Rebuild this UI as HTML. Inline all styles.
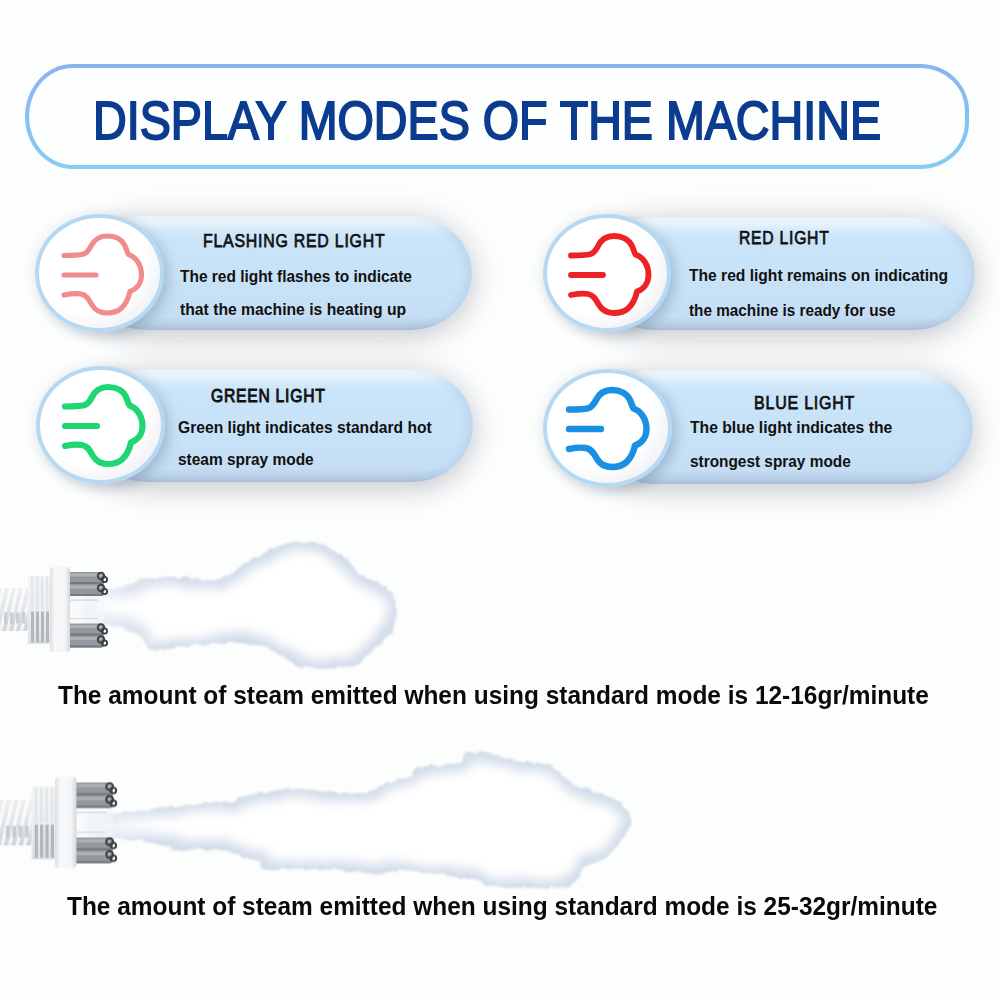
<!DOCTYPE html>
<html><head><meta charset="utf-8">
<style>
html,body{margin:0;padding:0;}
body{width:1000px;height:1000px;position:relative;overflow:hidden;background:#fcfdfd;font-family:"Liberation Sans",sans-serif;}
.abs{position:absolute;}
.hdr{left:25px;top:64px;width:936px;height:97px;border:4.5px solid transparent;border-radius:48px 49px 49px 48px / 53px 47px 47px 53px;
  background:linear-gradient(#fdfefe,#fdfefe) padding-box,linear-gradient(180deg,#8ab4ef,#84cdf4) border-box;}
.title{white-space:nowrap;color:#0b3c8f;font-weight:normal;-webkit-text-stroke:1.9px #0b3c8f;line-height:1;transform-origin:0 0;}
.pill{border-radius:62px/57px;
  background:linear-gradient(180deg,#f1f8fd 0px,#e5f2fc 7px,#d3e9f9 15px,#c9e3f8 24px,#c8e2f7 50%,#c5def4 calc(100% - 14px),#b8cfe7 calc(100% - 5px),#aec0d8 100%);
  box-shadow:inset -6px 0 7px rgba(80,110,150,.09), 0 8px 24px rgba(60,70,90,.16), 0 0 26px rgba(60,70,90,.09), 0 4px 44px rgba(60,70,90,.07);}
.circ{box-sizing:border-box;border-radius:50%;border:4.5px solid #b5d8f3;
  background:radial-gradient(ellipse at 40% 36%,#ffffff 0%,#ffffff 55%,#f2f3f6 75%,#dde1e7 100%);
  box-shadow:5px 6px 12px rgba(60,80,110,.2), 0 0 14px rgba(60,80,110,.1);}
.ico{width:128px;height:128px;}
.t{white-space:nowrap;color:#111;line-height:1;transform-origin:0 0;}
.h{-webkit-text-stroke:0.75px #111;letter-spacing:0.9px;}
.b{font-weight:bold;}
.big{font-weight:bold;color:#0a0a0a;white-space:nowrap;line-height:1;transform-origin:0 0;}

</style></head><body>
<div class="abs hdr"></div>
<div class="abs title" style="left:93.27px;top:95.14px;font-size:52.9px;transform:scaleX(0.882);">DISPLAY MODES OF THE MACHINE</div>
<div class="abs pill" style="left:85px;top:216px;width:387px;height:114px;"></div>
<div class="abs circ" style="left:35px;top:214px;width:129px;height:118px"></div>
<svg class="abs" style="left:55px;top:225px;width:100px;height:100px" viewBox="0 0 100 100"><g fill="none" stroke="#f28b8b" stroke-width="5.2" stroke-linecap="round" stroke-linejoin="round"><path d="M9,30.5 C17,30.5 24,30.3 28,29.3 C32,28.3 34,25 36,21 C39,15 44,11 52,11 C60,11 67,14.5 70,21 C71.5,24 72,27 73.5,29.5 C81,32 86.5,40 86.5,50 C86.5,58 82,64 75,66.5 C73.5,73 71,79 66,83.5 C62,87 57,88 52,88 C45,88 40,85 37,80 C34,75 32,70 26,69 C20,68 14,69 9,70"/><path d="M9,50 L41,50"/></g></svg>
<div class="abs t h" style="left:203.23px;top:231.95px;font-size:18.7px;transform:scaleX(0.8503);">FLASHING RED LIGHT</div>
<div class="abs t b" style="left:179.69px;top:267.55px;font-size:17.0px;transform:scaleX(0.9095);">The red light flashes to indicate</div>
<div class="abs t b" style="left:179.69px;top:301.05px;font-size:17.0px;transform:scaleX(0.9243);">that the machine is heating up</div>
<div class="abs pill" style="left:593px;top:216.5px;width:382px;height:113.5px;"></div>
<div class="abs circ" style="left:543px;top:214px;width:128px;height:118px"></div>
<svg class="abs" style="left:561.5px;top:225px;width:100px;height:100px" viewBox="0 0 100 100"><g fill="none" stroke="#ec2227" stroke-width="5.8" stroke-linecap="round" stroke-linejoin="round"><path d="M9,30.5 C17,30.5 24,30.3 28,29.3 C32,28.3 34,25 36,21 C39,15 44,11 52,11 C60,11 67,14.5 70,21 C71.5,24 72,27 73.5,29.5 C81,32 86.5,40 86.5,50 C86.5,58 82,64 75,66.5 C73.5,73 71,79 66,83.5 C62,87 57,88 52,88 C45,88 40,85 37,80 C34,75 32,70 26,69 C20,68 14,69 9,70"/><path d="M9,50 L41,50"/></g></svg>
<div class="abs t h" style="left:738.94px;top:229.05px;font-size:18.7px;transform:scaleX(0.8402);">RED LIGHT</div>
<div class="abs t b" style="left:689.49px;top:266.55px;font-size:17.0px;transform:scaleX(0.9176);">The red light remains on indicating</div>
<div class="abs t b" style="left:689.49px;top:301.55px;font-size:17.0px;transform:scaleX(0.8998);">the machine is ready for use</div>
<div class="abs pill" style="left:85.5px;top:369px;width:387.5px;height:112.5px;"></div>
<div class="abs circ" style="left:35.5px;top:366px;width:129px;height:118px"></div>
<svg class="abs" style="left:56px;top:376px;width:100px;height:100px" viewBox="0 0 100 100"><g fill="none" stroke="#1fd673" stroke-width="6.2" stroke-linecap="round" stroke-linejoin="round"><path d="M9,30.5 C17,30.5 24,30.3 28,29.3 C32,28.3 34,25 36,21 C39,15 44,11 52,11 C60,11 67,14.5 70,21 C71.5,24 72,27 73.5,29.5 C81,32 86.5,40 86.5,50 C86.5,58 82,64 75,66.5 C73.5,73 71,79 66,83.5 C62,87 57,88 52,88 C45,88 40,85 37,80 C34,75 32,70 26,69 C20,68 14,69 9,70"/><path d="M9,50 L41,50"/></g></svg>
<div class="abs t h" style="left:211.06px;top:386.76px;font-size:18.7px;transform:scaleX(0.8386);-webkit-text-stroke:0.95px #111;">GREEN LIGHT</div>
<div class="abs t b" style="left:178.37px;top:418.75px;font-size:17.0px;transform:scaleX(0.9198);">Green light indicates standard hot</div>
<div class="abs t b" style="left:178.38px;top:450.95px;font-size:17.0px;transform:scaleX(0.9087);">steam spray mode</div>
<div class="abs pill" style="left:593px;top:369.5px;width:380px;height:114.0px;"></div>
<div class="abs circ" style="left:543px;top:368.5px;width:129px;height:118px"></div>
<svg class="abs" style="left:560px;top:379px;width:100px;height:100px" viewBox="0 0 100 100"><g fill="none" stroke="#1a90e2" stroke-width="6.4" stroke-linecap="round" stroke-linejoin="round"><path d="M9,30.5 C17,30.5 24,30.3 28,29.3 C32,28.3 34,25 36,21 C39,15 44,11 52,11 C60,11 67,14.5 70,21 C71.5,24 72,27 73.5,29.5 C81,32 86.5,40 86.5,50 C86.5,58 82,64 75,66.5 C73.5,73 71,79 66,83.5 C62,87 57,88 52,88 C45,88 40,85 37,80 C34,75 32,70 26,69 C20,68 14,69 9,70"/><path d="M9,50 L41,50"/></g></svg>
<div class="abs t h" style="left:753.72px;top:394.06px;font-size:18.7px;transform:scaleX(0.8568);">BLUE LIGHT</div>
<div class="abs t b" style="left:690.29px;top:418.75px;font-size:17.0px;transform:scaleX(0.9227);">The blue light indicates the</div>
<div class="abs t b" style="left:689.98px;top:453.15px;font-size:17.0px;transform:scaleX(0.905);">strongest spray mode</div>
<svg class="abs" style="left:0;top:0" width="1000" height="1000" viewBox="0 0 1000 1000">
<defs>
<linearGradient id="hose" x1="0" y1="0" x2="0" y2="1"><stop offset="0" stop-color="#eef0f2"/><stop offset=".5" stop-color="#e3e6e9"/><stop offset="1" stop-color="#d2d5d9"/></linearGradient>
<linearGradient id="thr" x1="0" y1="0" x2="0" y2="1"><stop offset="0" stop-color="#f4f5f6"/><stop offset=".5" stop-color="#eceef0"/><stop offset="1" stop-color="#dfe2e5"/></linearGradient>
<linearGradient id="fl" x1="0" y1="0" x2="1" y2="0"><stop offset="0" stop-color="#dcdfe2"/><stop offset=".25" stop-color="#f7f8f9"/><stop offset=".75" stop-color="#f4f5f6"/><stop offset="1" stop-color="#d5d8db"/></linearGradient>
<filter id="cl" x="-5%" y="-20%" width="110%" height="140%">
<feTurbulence type="fractalNoise" baseFrequency="0.11" numOctaves="2" seed="7" result="n"/>
<feDisplacementMap in="SourceGraphic" in2="n" scale="6" xChannelSelector="R" yChannelSelector="G" result="d"/>
<feGaussianBlur in="d" stdDeviation="1.0"/>
</filter>
<filter id="inn" x="-5%" y="-20%" width="110%" height="140%">
<feTurbulence type="fractalNoise" baseFrequency="0.11" numOctaves="2" seed="7" result="n"/>
<feDisplacementMap in="SourceGraphic" in2="n" scale="6" xChannelSelector="R" yChannelSelector="G" result="d"/>
<feMorphology in="d" operator="erode" radius="7" result="e"/>
<feTurbulence type="fractalNoise" baseFrequency="0.035" numOctaves="2" seed="3" result="n2"/>
<feDisplacementMap in="e" in2="n2" scale="10" xChannelSelector="R" yChannelSelector="G" result="e2"/>
<feGaussianBlur in="e2" stdDeviation="5.5"/>
</filter>
<linearGradient id="fg" gradientUnits="userSpaceOnUse" x1="80" y1="0" x2="160" y2="0"><stop offset="0" stop-color="#fff" stop-opacity=".35"/><stop offset="1" stop-color="#fff" stop-opacity="1"/></linearGradient>
<mask id="fade" maskUnits="userSpaceOnUse" x="0" y="0" width="1000" height="1000"><rect x="0" y="0" width="1000" height="1000" fill="url(#fg)"/></mask>
</defs>
<g mask="url(#fade)">
<path d="M86.0,590.0 C88.8,586.6 109.5,590.1 114.0,589.5 C118.5,588.9 127.6,585.0 131.0,584.0 C134.4,583.0 142.9,579.6 148.0,579.0 C153.1,578.4 175.2,577.4 182.0,577.6 C188.8,577.8 210.9,581.5 216.0,581.0 C221.1,580.5 229.6,574.5 233.0,572.5 C236.4,570.5 244.9,563.4 250.0,560.6 C255.1,557.9 279.2,546.9 284.0,545.0 C288.8,543.1 293.9,541.9 298.0,542.0 C302.1,542.1 319.9,544.1 325.0,546.0 C330.1,547.9 345.6,557.8 349.0,560.6 C352.4,563.4 355.3,571.3 359.0,574.0 C362.7,576.7 382.3,584.9 386.0,588.0 C389.7,591.1 395.0,601.8 396.0,605.0 C397.0,608.2 397.0,616.6 396.0,620.0 C395.0,623.4 389.0,635.4 386.0,639.0 C383.0,642.6 368.7,653.6 366.0,656.0 C363.3,658.4 362.1,661.8 359.0,663.0 C355.9,664.2 340.8,667.7 335.0,668.0 C329.2,668.3 307.8,668.1 301.0,666.0 C294.2,663.9 273.8,649.4 267.0,647.0 C260.2,644.6 241.5,642.1 233.0,642.0 C224.5,641.9 190.2,644.9 182.0,645.6 C173.8,646.3 155.1,650.1 151.0,649.0 C146.9,647.9 144.7,637.4 141.0,635.0 C137.3,632.6 119.5,626.2 114.0,625.0 C108.5,623.8 88.8,626.5 86.0,623.0 C83.2,619.5 83.2,593.4 86.0,590.0 Z" fill="#d2dde9" stroke="#c8d4e2" stroke-width="1" filter="url(#cl)"/>
<path d="M86.0,590.0 C88.8,586.6 109.5,590.1 114.0,589.5 C118.5,588.9 127.6,585.0 131.0,584.0 C134.4,583.0 142.9,579.6 148.0,579.0 C153.1,578.4 175.2,577.4 182.0,577.6 C188.8,577.8 210.9,581.5 216.0,581.0 C221.1,580.5 229.6,574.5 233.0,572.5 C236.4,570.5 244.9,563.4 250.0,560.6 C255.1,557.9 279.2,546.9 284.0,545.0 C288.8,543.1 293.9,541.9 298.0,542.0 C302.1,542.1 319.9,544.1 325.0,546.0 C330.1,547.9 345.6,557.8 349.0,560.6 C352.4,563.4 355.3,571.3 359.0,574.0 C362.7,576.7 382.3,584.9 386.0,588.0 C389.7,591.1 395.0,601.8 396.0,605.0 C397.0,608.2 397.0,616.6 396.0,620.0 C395.0,623.4 389.0,635.4 386.0,639.0 C383.0,642.6 368.7,653.6 366.0,656.0 C363.3,658.4 362.1,661.8 359.0,663.0 C355.9,664.2 340.8,667.7 335.0,668.0 C329.2,668.3 307.8,668.1 301.0,666.0 C294.2,663.9 273.8,649.4 267.0,647.0 C260.2,644.6 241.5,642.1 233.0,642.0 C224.5,641.9 190.2,644.9 182.0,645.6 C173.8,646.3 155.1,650.1 151.0,649.0 C146.9,647.9 144.7,637.4 141.0,635.0 C137.3,632.6 119.5,626.2 114.0,625.0 C108.5,623.8 88.8,626.5 86.0,623.0 C83.2,619.5 83.2,593.4 86.0,590.0 Z" fill="#ffffff" filter="url(#inn)"/>
<path d="M90.0,816.0 C94.6,813.6 129.4,812.7 136.0,812.0 C142.6,811.3 150.4,809.6 156.0,809.0 C161.6,808.4 187.0,806.5 192.0,806.0 C197.0,805.5 201.8,804.0 206.0,803.6 C210.2,803.2 230.6,802.6 234.0,802.0 C237.4,801.4 236.6,799.0 240.0,798.0 C243.4,797.0 262.4,793.2 268.0,792.4 C273.6,791.6 287.6,789.4 296.0,789.6 C304.4,789.8 344.7,793.8 352.0,794.0 C359.3,794.2 365.7,792.9 369.0,792.0 C372.3,791.1 380.6,786.6 385.0,785.0 C389.4,783.4 409.8,777.7 413.0,776.0 C416.2,774.3 412.5,769.2 417.0,768.0 C421.5,766.8 453.1,765.3 458.0,764.0 C462.9,762.7 463.8,756.2 466.0,755.0 C468.2,753.8 477.2,752.0 480.0,752.0 C482.8,752.0 490.3,754.1 494.0,755.0 C497.7,755.9 511.1,759.8 517.0,761.0 C522.9,762.2 548.5,765.1 553.0,766.6 C557.5,768.1 560.0,774.2 562.0,776.0 C564.0,777.8 568.8,783.1 573.0,785.0 C577.2,786.9 599.3,792.8 604.0,794.6 C608.7,796.4 617.5,800.9 620.0,803.0 C622.5,805.1 628.1,813.2 629.0,815.6 C629.9,818.0 629.9,824.5 629.0,827.0 C628.1,829.5 621.7,838.5 620.0,841.0 C618.3,843.5 613.9,850.1 612.0,852.0 C610.1,853.9 603.8,858.6 601.0,860.0 C598.2,861.4 586.3,864.3 584.0,866.0 C581.7,867.7 579.4,875.0 578.0,877.0 C576.6,879.0 572.2,885.0 570.0,886.0 C567.8,887.0 563.0,886.9 556.0,887.0 C549.0,887.1 508.4,887.8 500.0,887.0 C491.6,886.2 481.8,880.8 472.0,879.0 C462.2,877.2 411.2,869.5 402.0,869.0 C392.8,868.5 386.4,873.6 380.0,873.6 C373.6,873.6 346.4,870.0 338.0,869.4 C329.6,868.8 303.3,868.0 296.0,868.0 C288.7,868.0 268.9,870.2 265.0,869.4 C261.1,868.6 260.9,861.4 257.0,859.6 C253.1,857.8 231.9,852.1 226.0,851.0 C220.1,849.9 202.8,848.4 198.0,848.4 C193.2,848.4 180.8,851.1 178.0,851.0 C175.2,850.9 173.6,848.1 170.0,847.0 C166.4,845.9 150.0,841.1 142.0,840.0 C134.0,838.9 95.2,838.4 90.0,836.0 C84.8,833.6 85.4,818.4 90.0,816.0 Z" fill="#d2dde9" stroke="#c8d4e2" stroke-width="1" filter="url(#cl)"/>
<path d="M90.0,816.0 C94.6,813.6 129.4,812.7 136.0,812.0 C142.6,811.3 150.4,809.6 156.0,809.0 C161.6,808.4 187.0,806.5 192.0,806.0 C197.0,805.5 201.8,804.0 206.0,803.6 C210.2,803.2 230.6,802.6 234.0,802.0 C237.4,801.4 236.6,799.0 240.0,798.0 C243.4,797.0 262.4,793.2 268.0,792.4 C273.6,791.6 287.6,789.4 296.0,789.6 C304.4,789.8 344.7,793.8 352.0,794.0 C359.3,794.2 365.7,792.9 369.0,792.0 C372.3,791.1 380.6,786.6 385.0,785.0 C389.4,783.4 409.8,777.7 413.0,776.0 C416.2,774.3 412.5,769.2 417.0,768.0 C421.5,766.8 453.1,765.3 458.0,764.0 C462.9,762.7 463.8,756.2 466.0,755.0 C468.2,753.8 477.2,752.0 480.0,752.0 C482.8,752.0 490.3,754.1 494.0,755.0 C497.7,755.9 511.1,759.8 517.0,761.0 C522.9,762.2 548.5,765.1 553.0,766.6 C557.5,768.1 560.0,774.2 562.0,776.0 C564.0,777.8 568.8,783.1 573.0,785.0 C577.2,786.9 599.3,792.8 604.0,794.6 C608.7,796.4 617.5,800.9 620.0,803.0 C622.5,805.1 628.1,813.2 629.0,815.6 C629.9,818.0 629.9,824.5 629.0,827.0 C628.1,829.5 621.7,838.5 620.0,841.0 C618.3,843.5 613.9,850.1 612.0,852.0 C610.1,853.9 603.8,858.6 601.0,860.0 C598.2,861.4 586.3,864.3 584.0,866.0 C581.7,867.7 579.4,875.0 578.0,877.0 C576.6,879.0 572.2,885.0 570.0,886.0 C567.8,887.0 563.0,886.9 556.0,887.0 C549.0,887.1 508.4,887.8 500.0,887.0 C491.6,886.2 481.8,880.8 472.0,879.0 C462.2,877.2 411.2,869.5 402.0,869.0 C392.8,868.5 386.4,873.6 380.0,873.6 C373.6,873.6 346.4,870.0 338.0,869.4 C329.6,868.8 303.3,868.0 296.0,868.0 C288.7,868.0 268.9,870.2 265.0,869.4 C261.1,868.6 260.9,861.4 257.0,859.6 C253.1,857.8 231.9,852.1 226.0,851.0 C220.1,849.9 202.8,848.4 198.0,848.4 C193.2,848.4 180.8,851.1 178.0,851.0 C175.2,850.9 173.6,848.1 170.0,847.0 C166.4,845.9 150.0,841.1 142.0,840.0 C134.0,838.9 95.2,838.4 90.0,836.0 C84.8,833.6 85.4,818.4 90.0,816.0 Z" fill="#ffffff" filter="url(#inn)"/>
</g>
<g transform="translate(0,609.5)"><rect x="-5" y="-21.5" width="36" height="43" fill="url(#hose)"/><path d="M-8,21.5 L2,-21.5 L5,-21.5 L-5,21.5 Z" fill="#ffffff" opacity=".75"/><path d="M-1,21.5 L9,-21.5 L12,-21.5 L2,21.5 Z" fill="#ffffff" opacity=".75"/><path d="M6,21.5 L16,-21.5 L19,-21.5 L9,21.5 Z" fill="#ffffff" opacity=".75"/><path d="M13,21.5 L23,-21.5 L26,-21.5 L16,21.5 Z" fill="#ffffff" opacity=".75"/><path d="M20,21.5 L30,-21.5 L33,-21.5 L23,21.5 Z" fill="#ffffff" opacity=".75"/><path d="M27,21.5 L37,-21.5 L40,-21.5 L30,21.5 Z" fill="#ffffff" opacity=".75"/><path d="M4,3 L7.5,3 L7.5,14 L4,14 Z" fill="#c3c6ca" opacity=".8"/><path d="M10,3 L13.5,3 L13.5,14 L10,14 Z" fill="#c3c6ca" opacity=".8"/><path d="M16,3 L19.5,3 L19.5,14 L16,14 Z" fill="#c3c6ca" opacity=".8"/><path d="M22,3 L25.5,3 L25.5,14 L22,14 Z" fill="#c3c6ca" opacity=".8"/><rect x="28" y="-34" width="23" height="68.5" fill="url(#thr)"/><rect x="31" y="2" width="3" height="31" fill="#b3b7bc"/><rect x="31" y="-33" width="2.4" height="33" fill="#e3e6e9"/><rect x="36" y="2" width="3" height="31" fill="#b3b7bc"/><rect x="36" y="-33" width="2.4" height="33" fill="#e3e6e9"/><rect x="41" y="2" width="3" height="31" fill="#b3b7bc"/><rect x="41" y="-33" width="2.4" height="33" fill="#e3e6e9"/><rect x="46" y="2" width="3" height="31" fill="#b3b7bc"/><rect x="46" y="-33" width="2.4" height="33" fill="#e3e6e9"/><rect x="66" y="-37.5" width="38" height="24" rx="2" fill="#94979b"/><rect x="66" y="-36.0" width="36" height="3" fill="#aeb1b5"/><rect x="66" y="-27.5" width="36" height="2" fill="#75787c"/><rect x="66" y="-24.0" width="36" height="3" fill="#aeb1b5"/><rect x="66" y="-15.5" width="36" height="2" fill="#75787c"/><circle cx="101" cy="-33.5" r="3.2" fill="none" stroke="#3f4246" stroke-width="2"/><circle cx="104.5" cy="-30.0" r="2.6" fill="none" stroke="#3a3d41" stroke-width="1.8"/><circle cx="101" cy="-21.5" r="3.2" fill="none" stroke="#3f4246" stroke-width="2"/><circle cx="104.5" cy="-18.0" r="2.6" fill="none" stroke="#3a3d41" stroke-width="1.8"/><rect x="66" y="14" width="38" height="24" rx="2" fill="#94979b"/><rect x="66" y="15.5" width="36" height="3" fill="#aeb1b5"/><rect x="66" y="24" width="36" height="2" fill="#75787c"/><rect x="66" y="27.5" width="36" height="3" fill="#aeb1b5"/><rect x="66" y="36" width="36" height="2" fill="#75787c"/><circle cx="101" cy="18" r="3.2" fill="none" stroke="#3f4246" stroke-width="2"/><circle cx="104.5" cy="21.5" r="2.6" fill="none" stroke="#3a3d41" stroke-width="1.8"/><circle cx="101" cy="30" r="3.2" fill="none" stroke="#3f4246" stroke-width="2"/><circle cx="104.5" cy="33.5" r="2.6" fill="none" stroke="#3a3d41" stroke-width="1.8"/><rect x="66" y="-13.5" width="38" height="27" fill="#f4f6f8" opacity=".6"/><rect x="66" y="-10" width="32" height="1.2" fill="#d3d6d9"/><rect x="66" y="8.5" width="32" height="1.2" fill="#dadcdf"/><rect x="50" y="-42.5" width="20" height="85" rx="3.5" fill="url(#fl)"/></g>
<g transform="translate(1.5,822.5) scale(1.07)"><rect x="-5" y="-21.5" width="36" height="43" fill="url(#hose)"/><path d="M-8,21.5 L2,-21.5 L5,-21.5 L-5,21.5 Z" fill="#ffffff" opacity=".75"/><path d="M-1,21.5 L9,-21.5 L12,-21.5 L2,21.5 Z" fill="#ffffff" opacity=".75"/><path d="M6,21.5 L16,-21.5 L19,-21.5 L9,21.5 Z" fill="#ffffff" opacity=".75"/><path d="M13,21.5 L23,-21.5 L26,-21.5 L16,21.5 Z" fill="#ffffff" opacity=".75"/><path d="M20,21.5 L30,-21.5 L33,-21.5 L23,21.5 Z" fill="#ffffff" opacity=".75"/><path d="M27,21.5 L37,-21.5 L40,-21.5 L30,21.5 Z" fill="#ffffff" opacity=".75"/><path d="M4,3 L7.5,3 L7.5,14 L4,14 Z" fill="#c3c6ca" opacity=".8"/><path d="M10,3 L13.5,3 L13.5,14 L10,14 Z" fill="#c3c6ca" opacity=".8"/><path d="M16,3 L19.5,3 L19.5,14 L16,14 Z" fill="#c3c6ca" opacity=".8"/><path d="M22,3 L25.5,3 L25.5,14 L22,14 Z" fill="#c3c6ca" opacity=".8"/><rect x="28" y="-34" width="23" height="68.5" fill="url(#thr)"/><rect x="31" y="2" width="3" height="31" fill="#b3b7bc"/><rect x="31" y="-33" width="2.4" height="33" fill="#e3e6e9"/><rect x="36" y="2" width="3" height="31" fill="#b3b7bc"/><rect x="36" y="-33" width="2.4" height="33" fill="#e3e6e9"/><rect x="41" y="2" width="3" height="31" fill="#b3b7bc"/><rect x="41" y="-33" width="2.4" height="33" fill="#e3e6e9"/><rect x="46" y="2" width="3" height="31" fill="#b3b7bc"/><rect x="46" y="-33" width="2.4" height="33" fill="#e3e6e9"/><rect x="66" y="-37.5" width="38" height="24" rx="2" fill="#94979b"/><rect x="66" y="-36.0" width="36" height="3" fill="#aeb1b5"/><rect x="66" y="-27.5" width="36" height="2" fill="#75787c"/><rect x="66" y="-24.0" width="36" height="3" fill="#aeb1b5"/><rect x="66" y="-15.5" width="36" height="2" fill="#75787c"/><circle cx="101" cy="-33.5" r="3.2" fill="none" stroke="#3f4246" stroke-width="2"/><circle cx="104.5" cy="-30.0" r="2.6" fill="none" stroke="#3a3d41" stroke-width="1.8"/><circle cx="101" cy="-21.5" r="3.2" fill="none" stroke="#3f4246" stroke-width="2"/><circle cx="104.5" cy="-18.0" r="2.6" fill="none" stroke="#3a3d41" stroke-width="1.8"/><rect x="66" y="14" width="38" height="24" rx="2" fill="#94979b"/><rect x="66" y="15.5" width="36" height="3" fill="#aeb1b5"/><rect x="66" y="24" width="36" height="2" fill="#75787c"/><rect x="66" y="27.5" width="36" height="3" fill="#aeb1b5"/><rect x="66" y="36" width="36" height="2" fill="#75787c"/><circle cx="101" cy="18" r="3.2" fill="none" stroke="#3f4246" stroke-width="2"/><circle cx="104.5" cy="21.5" r="2.6" fill="none" stroke="#3a3d41" stroke-width="1.8"/><circle cx="101" cy="30" r="3.2" fill="none" stroke="#3f4246" stroke-width="2"/><circle cx="104.5" cy="33.5" r="2.6" fill="none" stroke="#3a3d41" stroke-width="1.8"/><rect x="66" y="-13.5" width="38" height="27" fill="#f4f6f8" opacity=".6"/><rect x="66" y="-10" width="32" height="1.2" fill="#d3d6d9"/><rect x="66" y="8.5" width="32" height="1.2" fill="#dadcdf"/><rect x="50" y="-42.5" width="20" height="85" rx="3.5" fill="url(#fl)"/></g>
</svg>
<div class="abs big" style="left:58.11px;top:683.25px;font-size:25.0px;transform:scaleX(0.978);">The amount of steam emitted when using standard mode is 12-16gr/minute</div>
<div class="abs big" style="left:66.51px;top:894.15px;font-size:25.0px;transform:scaleX(0.9775);">The amount of steam emitted when using standard mode is 25-32gr/minute</div>
</body></html>
